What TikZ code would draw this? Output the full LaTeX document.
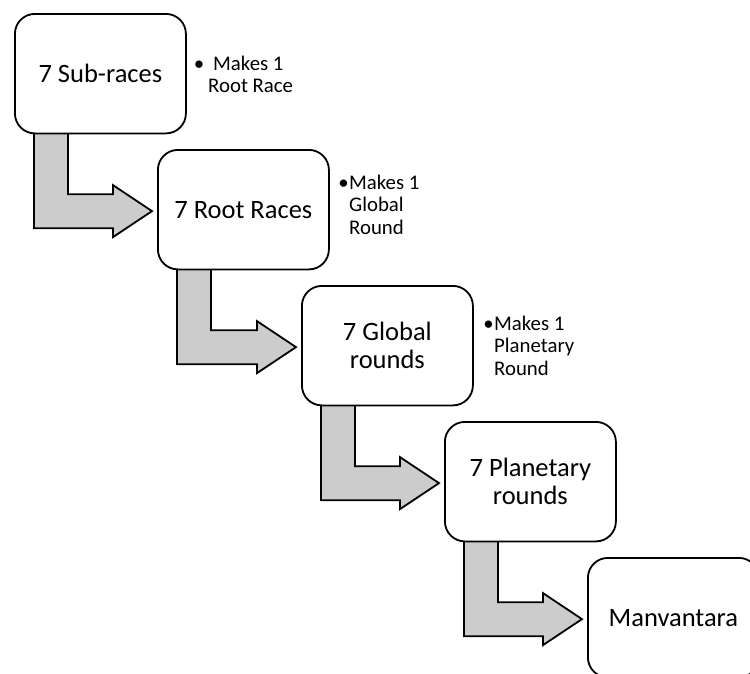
\documentclass[tikz,border=0pt]{standalone}
\usepackage{fontspec}
\setmainfont{Carlito}
\usetikzlibrary{calc,backgrounds}
\newcommand\mybentarrow[2]{%
  \path[bent] let \p1=(#1.south west), \p2=(#2.west) in
    (\x1+20pt,\y1+3pt) -- (\x1+54pt,\y1+3pt) -- (\x1+54pt,\y2+15.5pt)
    -- (\x2-44pt,\y2+15.5pt) -- (\x2-44pt,\y2+24.5pt) -- (\x2-5pt,\y2-1.5pt)
    -- (\x2-44pt,\y2-27.5pt) -- (\x2-44pt,\y2-18.5pt) -- (\x1+20pt,\y2-18.5pt) -- cycle;}
\begin{document}
\begin{tikzpicture}[x=1pt,y=-1pt,
  stage/.style={draw=black, line width=1.8pt, rounded corners=20pt, fill=white,
    minimum width=171pt, minimum height=119.5pt, inner sep=0pt, align=center,
    font=\fontsize{26.5}{28}\selectfont, anchor=north west},
  note/.style={inner sep=0pt, anchor=base west, font=\fontsize{20.8}{22.6}\selectfont},
  bent/.style={draw=black, line width=1.8pt, fill=black!20, line join=miter}]
\useasboundingbox (0,0) rectangle (750,673);
\clip (0,0) rectangle (750,673);
\node[stage] (s1) at (14,13) {7 Sub-races};
\node[stage] (s2) at (157,149) {7 Root Races};
\node[stage] (s3) at (301,285) {7 Global\\rounds};
\node[stage] (s4) at (444,421) {7 Planetary\\rounds};
\node[stage] (s5) at (587,557) {Manvantara};
\node[note] (n1) at (208,70) {\begin{tabular}[t]{@{}l@{}}\llap{\textbullet\hspace{4pt}}\hspace{5pt}Makes 1\\Root Race\end{tabular}};
\node[note] (n2) at (349,189) {\begin{tabular}[t]{@{}l@{}}\llap{\textbullet\hspace{0.5pt}}Makes 1\\Global\\Round\end{tabular}};
\node[note] (n3) at (494,330) {\begin{tabular}[t]{@{}l@{}}\llap{\textbullet\hspace{0.5pt}}Makes 1\\Planetary\\Round\end{tabular}};
\begin{scope}[on background layer]
\mybentarrow{s1}{s2}
\mybentarrow{s2}{s3}
\mybentarrow{s3}{s4}
\mybentarrow{s4}{s5}
\end{scope}
\end{tikzpicture}
\end{document}
